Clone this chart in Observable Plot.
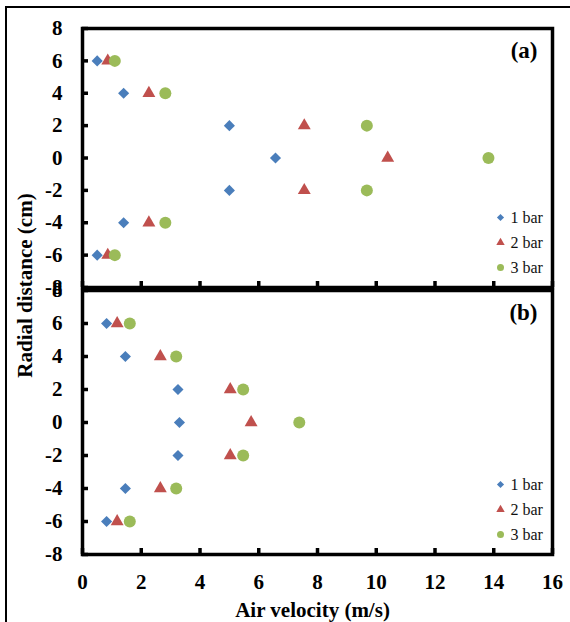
<!DOCTYPE html>
<html>
<head>
<meta charset="utf-8">
<script src="https://cdn.jsdelivr.net/npm/d3@7"></script>
<script src="https://cdn.jsdelivr.net/npm/@observablehq/plot@0.6"></script>
<style>
  body { margin: 0; background: #fff; }
  #chart { position: relative; width: 570px; height: 622px; overflow: hidden; background: #fff; }
  #chart svg { position: absolute; left: 0; top: 0; }
  #chart svg text { font-family: "Liberation Serif", "Times New Roman", serif; }
  #border { position: absolute; left: 5px; top: 6px; right: -10px; bottom: -10px;
            border-top: 2.5px solid #000; border-left: 2.5px solid #000; }
</style>
</head>
<body>
<div id="chart"><div id="border"></div></div>
<script>
// ---- data ----
const radial = [6, 4, 2, 0, -2, -4, -6];
const seriesNames = ["1 bar", "2 bar", "3 bar"];

// Panel (a)
const panelA_1bar = [0.50, 1.40, 5.00, 6.57, 5.00, 1.40, 0.50];
const panelA_2bar = [0.86, 2.26, 7.55, 10.39, 7.55, 2.26, 0.86];
const panelA_3bar = [1.10, 2.82, 9.68, 13.82, 9.68, 2.82, 1.10];

// Panel (b)
const panelB_1bar = [0.82, 1.46, 3.25, 3.30, 3.25, 1.46, 0.82];
const panelB_2bar = [1.18, 2.65, 5.03, 5.74, 5.03, 2.65, 1.18];
const panelB_3bar = [1.61, 3.19, 5.47, 7.38, 5.47, 3.19, 1.61];

const xTicks = [0, 2, 4, 6, 8, 10, 12, 14, 16];
const yTicks = [-8, -6, -4, -2, 0, 2, 4, 6, 8];
const panelLabels = ["(a)", "(b)"];
const xLabel = "Air velocity (m/s)";
const yLabel = "Radial distance (cm)";

// ---- styles ----
const colors = ["#4A7EBB", "#C0504D", "#9BBB59"];
const symbols = ["diamond2", "triangle", "circle"];
const dotR = [5.0, 4.8, 6.0];
const legendR = [3.2, 3.1, 3.5];
const legendDy = [-70, -45, -20];
const FONT = "Liberation Serif";

function rowsFor(seriesArrays) {
  return seriesArrays.map(vals => vals.map((v, i) => ({x: v, y: radial[i]})));
}

function panel(idx, seriesArrays, marginTop, marginBottom, isBottom) {
  const rows = rowsFor(seriesArrays);
  const marks = [
    Plot.frame({stroke: "#000", strokeWidth: 3.5}),
    // inward ticks
    Plot.axisY({ticks: yTicks, tickSize: 6, dx: 6, fill: "none", stroke: "#000", strokeWidth: 3.5, label: null}),
    Plot.axisX({ticks: xTicks, tickSize: 6, dy: -6, fill: "none", stroke: "#000", strokeWidth: 3.5, label: null}),
    // y tick labels
    Plot.axisY({ticks: yTicks, tickSize: 0, tickPadding: 20, tickFormat: d => String(d),
                fontSize: 21, fontWeight: "bold", fontFamily: FONT, fill: "#000", label: null}),
  ];
  if (isBottom) {
    marks.push(Plot.axisX({ticks: xTicks, tickSize: 0, tickPadding: 20, tickFormat: d => String(d),
                           fontSize: 21, fontWeight: "bold", fontFamily: FONT, fill: "#000", label: null}));
    marks.push(Plot.text([xLabel], {text: d => d, frameAnchor: "bottom", lineAnchor: "middle",
                                    textAnchor: "middle", dx: -5, dy: 56,
                                    fontSize: 21, fontWeight: "bold", fontFamily: FONT, fill: "#000"}));
  } else {
    marks.push(Plot.text([yLabel], {text: d => d, frameAnchor: "bottom-left", rotate: -90,
                                    dx: -57, dy: -2, textAnchor: "middle", lineAnchor: "middle",
                                    fontSize: 21, fontWeight: "bold", fontFamily: FONT, fill: "#000"}));
  }
  rows.forEach((r, s) => {
    marks.push(Plot.dot(r, {x: "x", y: "y", symbol: symbols[s], fill: colors[s], r: dotR[s], stroke: "none"}));
  });
  // panel label
  marks.push(Plot.text([panelLabels[idx]], {text: d => d, frameAnchor: "top-right", textAnchor: "end",
                                            lineAnchor: "middle", dx: -15, dy: 22,
                                            fontSize: 23, fontWeight: "bold", fontFamily: FONT, fill: "#000"}));
  // legend
  seriesNames.forEach((name, s) => {
    marks.push(Plot.dot([name], {frameAnchor: "bottom-right", dx: -52, dy: legendDy[s],
                                 symbol: symbols[s], fill: colors[s], r: legendR[s], stroke: "none"}));
    marks.push(Plot.text([name], {text: d => d, frameAnchor: "bottom-right", textAnchor: "start",
                                  lineAnchor: "middle", dx: -42, dy: legendDy[s],
                                  fontSize: 16, fontFamily: FONT, fill: "#111"}));
  });

  return Plot.plot({
    width: 570,
    height: 622,
    marginLeft: 82,
    marginRight: 18,
    marginTop,
    marginBottom,
    x: {domain: [0, 16]},
    y: {domain: [-8, 8]},
    style: {background: "transparent", overflow: "visible", color: "#000"},
    marks
  });
}

const chart = document.getElementById("chart");
chart.appendChild(panel(0, [panelA_1bar, panelA_2bar, panelA_3bar], 28, 622 - 287, false));
chart.appendChild(panel(1, [panelB_1bar, panelB_2bar, panelB_3bar], 290, 622 - 554, true));
</script>
</body>
</html>
